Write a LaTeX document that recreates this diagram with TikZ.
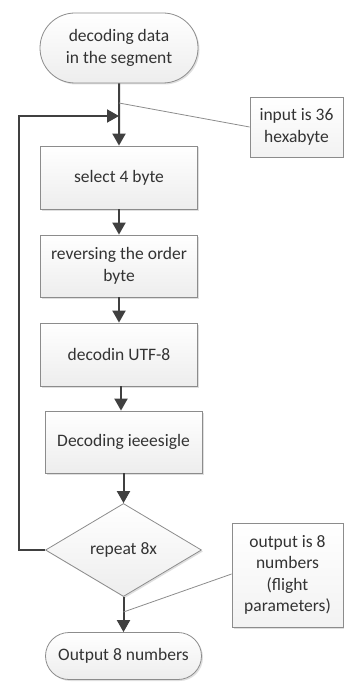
\documentclass[tikz,border=0pt]{standalone}
\usepackage{fontspec}
\setmainfont{Carlito}
\usetikzlibrary{shapes.geometric,shapes.misc,arrows.meta,shadows}
\definecolor{linec}{HTML}{404040}
\definecolor{borderc}{HTML}{8C8C8C}
\definecolor{txtc}{HTML}{333333}
\begin{document}
\begin{tikzpicture}[x=1pt,y=-1pt,
  base/.style={draw=borderc, line width=0.8pt, top color=white, bottom color=gray!14,
     text=txtc, align=center, inner sep=2pt,
     font=\fontsize{17.5}{21.5}\selectfont,
     drop shadow={shadow xshift=1.5pt, shadow yshift=-1.5pt, opacity=0.25, fill=gray}},
  procbox/.style={base, rectangle, minimum width=157pt, minimum height=62pt},
  term/.style={base, rounded rectangle, minimum width=162pt},
  decis/.style={base, diamond, minimum width=156pt, minimum height=93pt, inner sep=0pt},
  notebox/.style={base, rectangle, bottom color=gray!10},
  arr/.style={draw=linec, line width=2pt, -{Triangle[width=13pt,length=12pt]}},
  annot/.style={draw=borderc, line width=0.8pt}
]
\useasboundingbox (0,0) rectangle (344,687);

\node[term, minimum height=70pt] (start) at (119,48) {decoding data\\in the segment};
\node[procbox, minimum height=63pt] (sel) at (119,177.5) {select 4 byte};
\node[procbox] (rev) at (119,266) {reversing the order\\byte};
\node[procbox, minimum height=63pt] (dec) at (119,354.5) {decodin UTF-8};
\node[procbox] (ieee) at (123.5,442) {Decoding ieeesigle};
\node[decis] (dia) at (123.5,550) {repeat 8x};
\node[term, minimum height=47pt, minimum width=160pt] (out) at (123.5,656) {Output 8 numbers};
\node[notebox, minimum width=93pt, minimum height=60pt] (n1) at (296.5,127) {input is 36\\hexabyte};
\node[notebox, minimum width=111pt, minimum height=104pt] (n2) at (287.5,575) {output is 8\\numbers\\(flight\\parameters)};

\coordinate (join) at (119,116);
\coordinate (a1) at (119,103);
\coordinate (a2) at (123.5,612);
\coordinate (loopx) at (19,550);

\draw[arr] (start) -- (sel);
\draw[arr] (sel) -- (rev);
\draw[arr] (rev) -- (dec);
\draw[arr] ([xshift=2pt]dec.south) -- ([xshift=2pt]dec.south |- ieee.north);
\draw[arr] (ieee) -- (dia);
\draw[arr] (dia) -- (out);
\draw[arr] (dia.west) -- (loopx) |- (join);
\draw[annot] (a1) -- (n1.west);
\draw[annot] (a2) -- ([yshift=1pt]n2.west);
\end{tikzpicture}
\end{document}
